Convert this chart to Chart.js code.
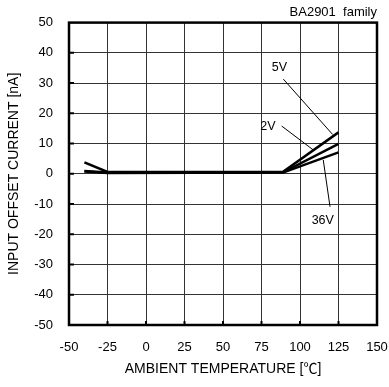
<!DOCTYPE html>
<html>
<head>
<meta charset="utf-8">
<script src="https://cdn.jsdelivr.net/npm/chart.js@4/dist/chart.umd.min.js"></script>
<style>
    body { margin: 0; background: #fff; }
    canvas { display: block; }
</style>
</head>
<body>
<canvas id="offsetChart" width="389" height="387"></canvas>
<script>
// temperature points (deg C) and input offset current (nA) per supply voltage
const temps = [-40, -25, 89, 125]
const current5V = [3.8, 0.6, 0.7, 13.7]
const current2V = [0.9, 0.4, 0.5, 9.9]
const current36V = [0.8, 0.3, 0.4, 7.1]

const xTicks = [-50, -25, 0, 25, 50, 75, 100, 125, 150]
const yTicks = [50, 40, 30, 20, 10, 0, -10, -20, -30, -40, -50]

// curve labels with leader lines, in data units
const curveLabels = ["5V", "2V", "36V"]
const labelAt = [[86.7, 35], [79.2, 15.5], [114.8, -15.6]]
const leaderFrom = [[89.2, 31.3], [88.1, 15.8], [119.5, -10.9]]
const leaderTo = [[121.2, 13.0], [108.6, 7.9], [115.1, 4.6]]

const FONT = "'Liberation Sans', Arial, 'Noto Sans CJK JP', sans-serif"

function toPoints(ys) {
    return temps.map((t, i) => ({ x: t, y: ys[i] }))
}

function lineSet(label, ys) {
    return {
        label: label,
        data: toPoints(ys),
        borderColor: "#000",
        borderWidth: 2.5,
        pointRadius: 0,
        tension: 0,
        fill: false
    }
}

//frame, inside tick marks and curve labels
const decorations = {
    id: "decorations",
    afterDatasetsDraw(chart) {
        const { ctx, chartArea: a, scales: { x, y } } = chart
        ctx.save()
        ctx.strokeStyle = "#000"
        ctx.lineWidth = 2
        ctx.beginPath()
        for (let v of xTicks) {
            const px = x.getPixelForValue(v)
            if (px <= a.left + 1 || px >= a.right - 1) continue
            ctx.moveTo(px, a.bottom)
            ctx.lineTo(px, a.bottom - 4)
        }
        for (let v of yTicks) {
            const py = y.getPixelForValue(v)
            if (py <= a.top + 1 || py >= a.bottom - 1) continue
            ctx.moveTo(a.left, py)
            ctx.lineTo(a.left + 5, py)
        }
        ctx.stroke()
        ctx.lineWidth = 2.5
        ctx.strokeRect(a.left, a.top, a.right - a.left, a.bottom - a.top)

        ctx.lineWidth = 1
        ctx.fillStyle = "#000"
        ctx.font = "12.5px " + FONT
        ctx.textAlign = "center"
        ctx.textBaseline = "middle"
        curveLabels.forEach((txt, i) => {
            ctx.beginPath()
            ctx.moveTo(x.getPixelForValue(leaderFrom[i][0]), y.getPixelForValue(leaderFrom[i][1]))
            ctx.lineTo(x.getPixelForValue(leaderTo[i][0]), y.getPixelForValue(leaderTo[i][1]))
            ctx.stroke()
            ctx.fillText(txt, x.getPixelForValue(labelAt[i][0]), y.getPixelForValue(labelAt[i][1]))
        })
        ctx.restore()
    }
}

Chart.defaults.font.family = FONT
Chart.defaults.color = "#000"

new Chart(document.getElementById("offsetChart"), {
    type: "line",
    data: {
        datasets: [
            lineSet("5V", current5V),
            lineSet("2V", current2V),
            lineSet("36V", current36V)
        ]
    },
    options: {
        responsive: false,
        animation: false,
        devicePixelRatio: 1,
        layout: {
            padding: { top: 0, right: 12, bottom: 0, left: 0 }
        },
        plugins: {
            legend: { display: false },
            tooltip: { enabled: false },
            title: {
                display: true,
                text: "BA2901  family",
                align: "end",
                color: "#000",
                font: { size: 13, weight: "normal" },
                padding: { top: 5, bottom: 2 }
            }
        },
        scales: {
            x: {
                type: "linear",
                min: -50,
                max: 150,
                afterBuildTicks: scale => {
                    scale.ticks = xTicks.map(v => ({ value: v }))
                },
                afterFit: scale => {
                    scale.height = 62
                    // edge labels may hang over, don't let them shrink the plot
                    scale.paddingLeft = 0
                    scale.paddingRight = 0
                },
                grid: {
                    color: "#333",
                    lineWidth: 1,
                    drawTicks: false
                },
                border: { display: false },
                ticks: {
                    padding: 15,
                    maxRotation: 0,
                    autoSkip: false,
                    font: { size: 13 },
                    color: "#000"
                },
                title: {
                    display: true,
                    text: "AMBIENT TEMPERATURE [℃]",
                    font: { size: 14 },
                    color: "#000",
                    padding: { top: 0, bottom: 9 }
                }
            },
            y: {
                type: "linear",
                min: -50,
                max: 50,
                afterBuildTicks: scale => {
                    scale.ticks = yTicks.map(v => ({ value: v }))
                },
                afterFit: scale => {
                    scale.width = 69
                    scale.paddingTop = 0
                    scale.paddingBottom = 0
                },
                grid: {
                    color: "#333",
                    lineWidth: 1,
                    drawTicks: false
                },
                border: { display: false },
                ticks: {
                    padding: 16,
                    autoSkip: false,
                    font: { size: 13 },
                    color: "#000"
                },
                title: {
                    display: true,
                    text: "INPUT OFFSET CURRENT [nA]",
                    font: { size: 14 },
                    color: "#000",
                    padding: { top: 6, bottom: 0 }
                }
            }
        }
    },
    plugins: [decorations]
})
</script>
</body>
</html>
